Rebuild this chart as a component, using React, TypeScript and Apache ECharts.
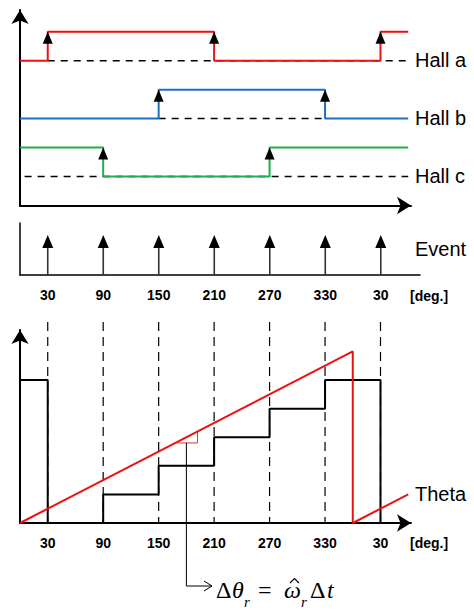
import React, { useEffect, useRef } from "react";
import * as echarts from "echarts";

// ---- data ----
const TICK_DEGREES = [30, 90, 150, 210, 270, 330, 390];
const TICK_LABELS = ["30", "90", "150", "210", "270", "330", "30"];
const END_DEG = 420;

// Hall sensor transitions: [deg, state]
const HALL_A = [[0, 0], [30, 1], [210, 0], [390, 1]];
const HALL_B = [[0, 0], [150, 1], [330, 0]];
const HALL_C = [[0, 1], [90, 0], [270, 1]];
const HALL_BASE = { a: 5, b: 3, c: 1 };
const HALL_DASH = { a: [30, 420], b: [150, 330], c: [5, 420] };

// Event arrows
const EVENT_DEGREES = [30, 90, 150, 210, 270, 330, 390];
const EVENT_HEIGHT = 0.77;

// Bottom: estimated angle (step) and real theta (ramp)
const STEP_DEG = [0, 30, 90, 150, 210, 270, 330, 390];
const STEP_LEVEL = [5, 0, 1, 2, 3, 4, 5, 0];
const THETA = [[0, 0], [360, 6], [360, 0], [420, 1]];
const TRI_FROM = 168;
const TRI_TO = 192;
const TRI_LOW = 2.8;
const TRI_HIGH = 3.2;
const CONNECT_DEG = 180;

function stepPoints(trans: number[][], base: number, end: number) {
  const pts: number[][] = [];
  trans.forEach(([d, s], i) => {
    if (i > 0) pts.push([d, base + trans[i - 1][1]]);
    pts.push([d, base + s]);
  });
  pts.push([end, base + trans[trans.length - 1][1]]);
  return pts;
}
function hallArrows(trans: number[][], base: number) {
  return trans.slice(1).map(([d]) => [d, base + 1]);
}
function blackSteps() {
  const pts: number[][] = [];
  STEP_DEG.forEach((d, i) => {
    if (i > 0) pts.push([d, STEP_LEVEL[i - 1]]);
    pts.push([d, STEP_LEVEL[i]]);
  });
  return pts;
}

const FONT = '"Liberation Sans", Arial, sans-serif';
const SERIF = '"Liberation Serif", "Times New Roman", serif';

function arrowHead(tip: number[], w: number, h: number, color = "#000") {
  return {
    type: "polygon",
    shape: { points: [[tip[0], tip[1]], [tip[0] - w / 2, tip[1] + h], [tip[0] + w / 2, tip[1] + h]] },
    style: { fill: color },
  };
}

export default function App() {
  const ref = useRef<HTMLDivElement>(null);
  useEffect(() => {
    const chart = echarts.init(ref.current!, null, { renderer: "svg" });
    const axisLineArrow = {
      show: true,
      symbol: ["none", "arrow"],
      symbolSize: [13, 14],
      lineStyle: { color: "#000", width: 2 },
    };
    const labelCommon = {
      customValues: TICK_DEGREES,
      formatter: (v: number) => TICK_LABELS[TICK_DEGREES.indexOf(v)] ?? "",
      margin: 13,
      fontSize: 14,
      fontWeight: "bold",
      fontFamily: FONT,
      color: "#000",
    };
    const plain = { axisTick: { show: false }, splitLine: { show: false } };
    const hallSeries = (trans: number[][], base: number, color: string) => ({
      type: "line",
      xAxisIndex: 0,
      yAxisIndex: 0,
      data: stepPoints(trans, base, END_DEG),
      symbol: "none",
      clip: false,
      lineStyle: { color, width: 2 },
      z: 3,
    });
    const dashSeries = (range: number[], base: number) => ({
      type: "line",
      xAxisIndex: 0,
      yAxisIndex: 0,
      data: [[range[0], base], [range[1], base]],
      symbol: "none",
      clip: false,
      lineStyle: { color: "#000", width: 1.5, type: [7, 6] },
      z: 2,
    });
    const option: any = {
      animation: false,
      backgroundColor: "#fff",
      grid: [
        { left: 20, top: 10, width: 391, height: 195.5 },
        { left: 20, top: 223, width: 400, height: 52 },
        { left: 20, top: 330, width: 391, height: 193 },
      ],
      xAxis: [
        { gridIndex: 0, type: "value", min: 0, max: 423, axisLine: axisLineArrow, axisLabel: { show: false }, ...plain },
        { gridIndex: 1, type: "value", min: 0, max: 432.4, axisLine: { show: true, lineStyle: { color: "#000", width: 1.5 } }, axisLabel: labelCommon, ...plain },
        { gridIndex: 2, type: "value", min: 0, max: 423, axisLine: axisLineArrow, axisLabel: labelCommon, ...plain },
      ],
      yAxis: [
        { gridIndex: 0, type: "value", min: 0, max: 6.75, axisLine: axisLineArrow, axisLabel: { show: false }, ...plain },
        { gridIndex: 1, type: "value", min: 0, max: 1, axisLine: { show: true, lineStyle: { color: "#000", width: 1.5 } }, axisLabel: { show: false }, ...plain },
        { gridIndex: 2, type: "value", min: 0, max: 6.75, axisLine: axisLineArrow, axisLabel: { show: false }, ...plain },
      ],
      series: [
        dashSeries(HALL_DASH.a, HALL_BASE.a),
        dashSeries(HALL_DASH.b, HALL_BASE.b),
        dashSeries(HALL_DASH.c, HALL_BASE.c),
        hallSeries(HALL_A, HALL_BASE.a, "#f01010"),
        hallSeries(HALL_B, HALL_BASE.b, "#1f6fc0"),
        hallSeries(HALL_C, HALL_BASE.c, "#1fae4f"),
        {
          type: "custom",
          xAxisIndex: 0,
          yAxisIndex: 0,
          z: 5,
          data: [
            ...hallArrows(HALL_A, HALL_BASE.a),
            ...hallArrows(HALL_B, HALL_BASE.b),
            ...hallArrows(HALL_C, HALL_BASE.c),
          ],
          renderItem: (params: any, api: any) => {
            const tip = api.coord([api.value(0), api.value(1)]);
            return arrowHead(tip, 10, 12);
          },
        },
        {
          type: "custom",
          xAxisIndex: 1,
          yAxisIndex: 1,
          data: EVENT_DEGREES.map((d) => [d, EVENT_HEIGHT]),
          renderItem: (params: any, api: any) => {
            const tip = api.coord([api.value(0), api.value(1)]);
            const base = api.coord([api.value(0), 0]);
            return {
              type: "group",
              children: [
                { type: "line", shape: { x1: base[0], y1: base[1], x2: tip[0], y2: tip[1] + 6 }, style: { stroke: "#333", lineWidth: 1.6 } },
                arrowHead(tip, 11, 13),
              ],
            };
          },
        },
        {
          type: "custom",
          xAxisIndex: 2,
          yAxisIndex: 2,
          clip: false,
          data: TICK_DEGREES.map((d) => [d, 7.03]),
          renderItem: (params: any, api: any) => {
            const top = api.coord([api.value(0), api.value(1)]);
            const bot = api.coord([api.value(0), 0]);
            return { type: "line", shape: { x1: top[0], y1: top[1], x2: bot[0], y2: bot[1] }, style: { stroke: "#000", lineWidth: 1.2, lineDash: [9, 6] } };
          },
        },
        {
          type: "line",
          xAxisIndex: 2,
          yAxisIndex: 2,
          data: blackSteps(),
          symbol: "none",
          clip: false,
          lineStyle: { color: "#000", width: 2 },
          z: 3,
        },
        {
          type: "line",
          xAxisIndex: 2,
          yAxisIndex: 2,
          data: THETA,
          symbol: "none",
          clip: false,
          lineStyle: { color: "#f01010", width: 2 },
          z: 4,
        },
        {
          type: "custom",
          xAxisIndex: 2,
          yAxisIndex: 2,
          clip: false,
          z: 5,
          data: [[CONNECT_DEG, TRI_LOW]],
          renderItem: (params: any, api: any) => {
            const p1 = api.coord([TRI_FROM, TRI_LOW]);
            const p2 = api.coord([TRI_TO, TRI_LOW]);
            const p3 = api.coord([TRI_TO, TRI_HIGH]);
            const c = api.coord([api.value(0), api.value(1)]);
            const yEnd = 586;
            const xEnd = 212;
            return {
              type: "group",
              children: [
                { type: "polyline", shape: { points: [p1, p2, p3] }, style: { stroke: "#e03030", lineWidth: 1, fill: "none" } },
                { type: "polyline", shape: { points: [c, [c[0], yEnd], [xEnd, yEnd]] }, style: { stroke: "#000", lineWidth: 1, fill: "none" } },
                { type: "polyline", shape: { points: [[xEnd - 8, yEnd - 5], [xEnd, yEnd], [xEnd - 8, yEnd + 5]] }, style: { stroke: "#000", lineWidth: 1, fill: "none" } },
              ],
            };
          },
        },
      ],
      graphic: [
        ...[
          ["Hall a", 60],
          ["Hall b", 118],
          ["Hall c", 176],
          ["Event", 249],
          ["Theta", 494],
        ].map(([t, y]) => ({
          type: "text",
          x: 415,
          y: y as number,
          style: { text: t as string, fontSize: 20, fontFamily: FONT, fill: "#000", align: "left", verticalAlign: "middle" },
        })),
        ...[296, 543].map((y) => ({
          type: "text",
          x: 410,
          y,
          style: { text: "[deg.]", fontSize: 14, fontWeight: "bold", fontFamily: FONT, fill: "#000", align: "left", verticalAlign: "middle" },
        })),
        // formula pieces
        ...[
          ["Δ", 216, 590, 24, "normal"],
          ["θ", 232, 590, 24, "italic"],
          ["r", 244, 602, 15, "italic"],
          ["=", 258, 590, 24, "normal"],
          ["ω", 284, 590, 24, "italic"],
          ["r", 301, 602, 15, "italic"],
          ["Δ", 310, 590, 24, "normal"],
          ["t", 327, 590, 24, "italic"],
        ].map(([t, x, y, fs, st]) => ({
          type: "text",
          x: x as number,
          y: y as number,
          style: { text: t as string, fontSize: fs as number, fontStyle: st as string, fontFamily: SERIF, fill: "#000", align: "left", verticalAlign: "middle" },
        })),
        {
          type: "polyline",
          shape: { points: [[290, 583], [294.5, 578.5], [299, 583]] },
          style: { stroke: "#000", lineWidth: 1.2, fill: "none" },
        },
      ],
    };
    chart.setOption(option);
    return () => chart.dispose();
  }, []);
  return <div ref={ref} style={{ position: "fixed", left: 0, top: 0, width: 474, height: 614, background: "#fff" }} />;
}
